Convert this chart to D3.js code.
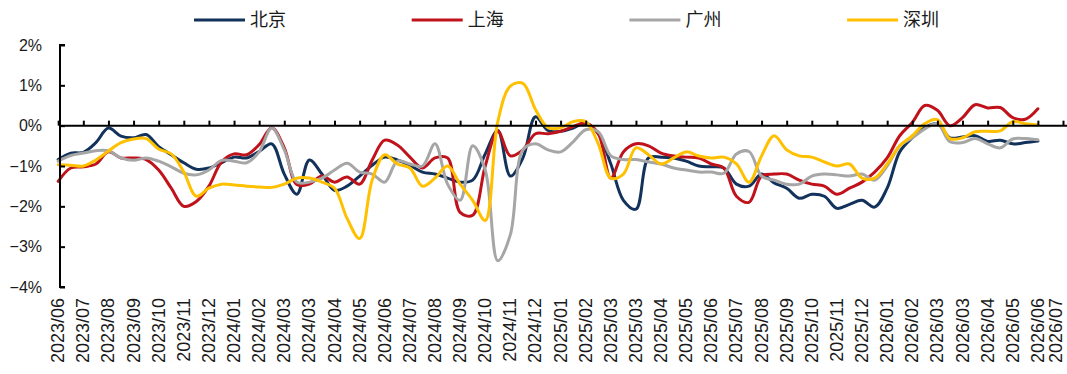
<!DOCTYPE html>
<html>
<head>
<meta charset="utf-8">
<script src="https://cdn.jsdelivr.net/npm/d3@7"></script>
<style>
  html, body { margin: 0; padding: 0; background: #fff; }
  svg { display: block; }
  text { font-family: "Liberation Sans", Arial, sans-serif; fill: #1a1a1a; }
  .legend text { font-family: "Noto Sans CJK SC", sans-serif; }
</style>
</head>
<body>
<svg id="chart" width="1067" height="374"></svg>
<script>
// Axis tick labels (one every four weeks)
const tickLabels = [
  "2023/06","2023/07","2023/08","2023/09","2023/10","2023/11","2023/12",
  "2024/01","2024/02","2024/03","2024/03","2024/04","2024/05","2024/06","2024/07","2024/08","2024/09","2024/10","2024/11","2024/12",
  "2025/01","2025/02","2025/03","2025/03","2025/04","2025/05","2025/06","2025/07","2025/08","2025/09","2025/10","2025/11","2025/12",
  "2026/01","2026/02","2026/03","2026/03","2026/04","2026/05","2026/06","2026/07"
];

// City names and colours
const cities = ["北京", "上海", "广州", "深圳"];
const colors = ["#13325b", "#c0121b", "#a6a6a6", "#ffc000"];

// Readings every two weeks (%), starting at the first tick
const beijing = [
  -0.84,-0.68,-0.66,-0.42,-0.06,-0.26,-0.30,-0.22,-0.52,-0.72,
  -0.92,-1.08,-1.05,-0.92,-0.78,-0.80,-0.64,-0.45,-1.20,-1.70,
  -0.85,-1.20,-1.60,-1.50,-1.25,-0.98,-0.78,-0.85,-0.98,-1.15,
  -1.20,-1.30,-1.40,-1.35,-0.70,-0.12,-1.25,-0.80, 0.22,-0.12,
  -0.14,-0.06, 0.06,-0.20,-0.95,-1.85,-2.07,-0.80,-0.78,-0.80,
  -0.88,-1.00,-1.02,-1.05,-1.45,-1.50,-1.20,-1.42,-1.55,-1.80,
  -1.70,-1.75,-2.05,-1.95,-1.85,-2.02,-1.55,-0.65,-0.30,-0.05,
   0.05,-0.30,-0.28,-0.25,-0.39,-0.36,-0.45,-0.42,-0.38
];
const shanghai = [
  -1.38,-1.05,-1.02,-0.95,-0.65,-0.80,-0.80,-0.84,-1.10,-1.55,
  -2.00,-1.88,-1.50,-0.90,-0.70,-0.72,-0.47,-0.05,-0.55,-1.46,
  -1.45,-1.25,-1.40,-1.27,-1.45,-0.85,-0.36,-0.48,-0.78,-1.05,
  -0.80,-0.80,-2.15,-2.22,-1.00,-0.14,-0.75,-0.60,-0.20,-0.20,
  -0.14,-0.02, 0.06,-0.20,-1.30,-0.65,-0.45,-0.50,-0.68,-0.75,
  -0.78,-0.80,-0.95,-1.05,-1.75,-1.90,-1.25,-1.20,-1.20,-1.35,
  -1.45,-1.50,-1.70,-1.55,-1.40,-1.15,-0.80,-0.25, 0.08, 0.50,
   0.38, 0.00, 0.20, 0.52, 0.44, 0.45, 0.20, 0.16, 0.42
];
const guangzhou = [
  -0.88,-0.74,-0.68,-0.62,-0.62,-0.80,-0.86,-0.80,-0.88,-1.02,
  -1.18,-1.22,-1.10,-0.86,-0.88,-0.92,-0.65,-0.06,-0.60,-1.40,
  -1.40,-1.30,-1.10,-0.93,-1.15,-1.20,-1.40,-0.88,-0.95,-1.00,
  -0.45,-1.45,-1.85,-0.50,-1.10,-3.35,-2.70,-0.60,-0.45,-0.60,
  -0.65,-0.40,-0.10,-0.15,-0.75,-0.84,-0.84,-0.90,-0.95,-1.05,
  -1.10,-1.15,-1.15,-1.18,-0.70,-0.64,-1.25,-1.35,-1.45,-1.45,
  -1.25,-1.20,-1.22,-1.25,-1.20,-1.35,-1.00,-0.50,-0.30,-0.08,
   0.05,-0.40,-0.42,-0.32,-0.45,-0.55,-0.33,-0.32,-0.35
];
const shenzhen = [
  -0.97,-0.98,-1.00,-0.85,-0.63,-0.42,-0.33,-0.32,-0.58,-0.70,
  -1.15,-1.75,-1.55,-1.45,-1.47,-1.50,-1.52,-1.53,-1.45,-1.30,
  -1.30,-1.40,-1.55,-2.30,-2.80,-1.35,-0.72,-0.95,-1.05,-1.50,
  -1.30,-1.00,-1.45,-1.85,-2.35, 0.10, 0.98, 1.05, 0.40,-0.05,
  -0.05, 0.10, 0.10,-0.45,-1.30,-1.20,-0.55,-0.72,-0.95,-0.80,
  -0.65,-0.75,-0.80,-0.78,-0.95,-1.40,-0.75,-0.25,-0.60,-0.75,
  -0.78,-0.90,-1.00,-0.95,-1.30,-1.30,-0.95,-0.50,-0.25, 0.05,
   0.15,-0.32,-0.30,-0.15,-0.14,-0.13, 0.10, 0.05, 0.02
];

const yTicks = [2, 1, 0, -1, -2, -3, -4];
const seriesValues = [beijing, shanghai, guangzhou, shenzhen];
const pointsPerTick = 2;
const width = 1067;

const svg = d3.select("#chart");

const x = d3.scaleLinear()
  .domain([0, tickLabels.length - 1])
  .range([58.2, 1063]);
const y = d3.scaleLinear()
  .domain([-4, 2])
  .range([287, 45]);

// Lines
const line = d3.line()
  .x((d, i) => x(i / pointsPerTick))
  .y(d => y(d))
  .curve(d3.curveCatmullRom.alpha(0.5));

svg.append("g")
  .selectAll("path")
  .data(seriesValues)
  .join("path")
  .attr("fill", "none")
  .attr("stroke", (d, i) => colors[i])
  .attr("stroke-width", 3)
  .attr("stroke-linejoin", "round")
  .attr("stroke-linecap", "round")
  .attr("d", line);

// Y axis: inside ticks, percent labels
const yAxis = svg.append("g")
  .attr("transform", `translate(${x(0) + 1.8},0)`)
  .call(d3.axisRight(y)
    .tickValues(yTicks)
    .tickSize(5)
    .tickFormat(d => (d < 0 ? "\u2212" + Math.abs(d) : d) + "%"));
yAxis.select(".domain").attr("stroke", "#000").attr("stroke-width", 2)
  .attr("d", `M5,${y(2)}H0V${y(-4)}H5`);
yAxis.selectAll(".tick line").attr("stroke", "#000").attr("stroke-width", 2);
yAxis.selectAll(".tick text")
  .attr("x", -18)
  .attr("text-anchor", "end")
  .attr("font-size", 16)
  .attr("fill", "#1a1a1a");

// Horizontal axis along the zero line, ticks pointing up
const xAxis = svg.append("g")
  .attr("transform", `translate(0,${y(0)})`)
  .call(d3.axisTop(x)
    .tickValues(d3.range(tickLabels.length))
    .tickSize(5)
    .tickFormat(""));
xAxis.select(".domain").attr("stroke", "#000").attr("stroke-width", 2)
  .attr("d", `M${x(0) + 1.8},0H${width}`);
xAxis.selectAll(".tick line").attr("stroke", "#000").attr("stroke-width", 2);

// Rotated date labels along the bottom (the last one is nudged inside the frame)
svg.append("g")
  .selectAll("text")
  .data(tickLabels)
  .join("text")
  .attr("transform", (d, i) => `translate(${Math.min(x(i) + 6, width - 5)},298) rotate(-90)`)
  .attr("text-anchor", "end")
  .attr("font-size", 18)
  .attr("fill", "#1a1a1a")
  .text(d => d);

// Legend
const legend = svg.append("g").attr("class", "legend");
const legendItems = legend.selectAll("g")
  .data(cities)
  .join("g")
  .attr("transform", (d, i) => `translate(${194 + i * 217.7},20)`);
legendItems.append("line")
  .attr("x1", 0).attr("x2", 51)
  .attr("y1", 0).attr("y2", 0)
  .attr("stroke", (d, i) => colors[i])
  .attr("stroke-width", 3);
legendItems.append("text")
  .attr("x", 56)
  .attr("y", 0)
  .attr("dy", "0.36em")
  .attr("font-size", 18)
  .attr("fill", "#1a1a1a")
  .text(d => d);
</script>
</body>
</html>
